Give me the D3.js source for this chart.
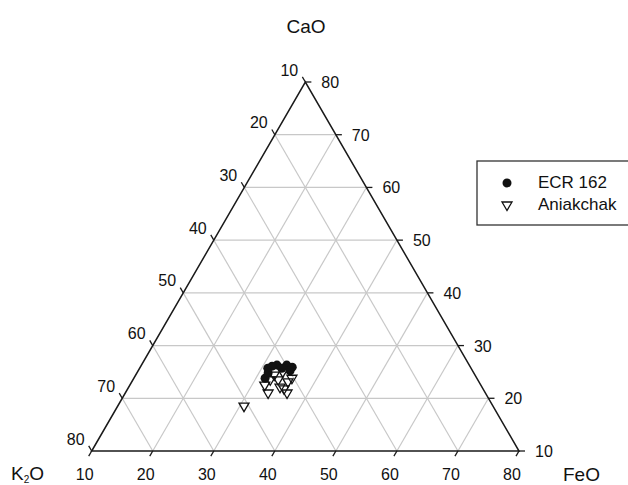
<!DOCTYPE html>
<html><head><meta charset="utf-8">
<script src="https://cdn.jsdelivr.net/npm/d3@7"></script>
<style>body{margin:0;background:#fff}</style>
</head><body><svg id="c" width="628" height="485"></svg>
<script>
const tickVals = [10,20,30,40,50,60,70,80];
const gridVals = [20,30,40,50,60,70];
const seriesNames = ["ECR 162","Aniakchak"];
// ECR 162 compositions
const ecrK2O = [43.3,41.5,39.9,39.2,44.7,42.4,41.0,43.7,39.9];
const ecrCaO = [25.7,26.3,26.3,25.9,23.8,26.1,25.7,24.8,25.2];
const ecrFeO = [31.0,32.2,33.8,34.9,31.5,31.5,33.3,31.5,34.9];
// Aniakchak compositions
const aniK2O = [44.0,42.7,41.3,45.6,42.5,43.1,50.8,41.2,42.9,40.3,45.4,42.6];
const aniCaO = [23.5,23.5,23.1,21.0,21.0,22.1,18.5,25.0,24.4,23.8,22.5,21.8];
const aniFeO = [32.5,33.8,35.6,33.4,36.5,34.8,30.7,33.8,32.7,35.9,32.1,35.6];

const svg = d3.select("#c");
const font = "'Liberation Sans', Arial, sans-serif";
const frac = d3.scaleLinear().domain([10,80]).range([0,1]);
const X = d3.scaleLinear().domain([0,1]).range([91.7,519]);
const Y = d3.scaleLinear().domain([0,1]).range([451,82]);
function proj(k,c,f){
  const s = (k+c+f)/100;
  const fc = frac(c/s), ff = frac(f/s);
  return [X(ff + fc/2), Y(fc)];
}
const line = d3.line();

// grid
const g = svg.append("g").attr("stroke","#c8c8c8").attr("stroke-width",1.2).attr("fill","none");
gridVals.forEach(v=>{
  g.append("path").attr("d", line([proj(90-v,v,10), proj(10,v,90-v)]));   // CaO const
  g.append("path").attr("d", line([proj(90-v,10,v), proj(10,90-v,v)]));   // FeO const
  g.append("path").attr("d", line([proj(v,10,90-v), proj(v,90-v,10)]));   // K2O const
});

// edges
svg.append("path").attr("d", line([proj(80,10,10),proj(10,80,10),proj(10,10,80)])+"Z")
  .attr("fill","none").attr("stroke","#1a1a1a").attr("stroke-width",1.5);

// ticks and labels
const tk = svg.append("g").attr("stroke","#1a1a1a").attr("stroke-width",1.3);
const tl = svg.append("g").attr("font-family",font).attr("font-size",16).attr("fill","#111");
const L = 6;
tickVals.forEach(v=>{
  let p = proj(90-v,10,v); // bottom FeO
  tk.append("line").attr("x1",p[0]).attr("y1",p[1]).attr("x2",p[0]-0.5*L).attr("y2",p[1]+0.866*L);
  tl.append("text").attr("x",p[0]-7).attr("y",p[1]+29).attr("text-anchor","middle").text(v);
  p = proj(v,90-v,10); // left K2O
  tk.append("line").attr("x1",p[0]).attr("y1",p[1]).attr("x2",p[0]-0.5*L).attr("y2",p[1]-0.866*L);
  tl.append("text").attr("x",p[0]-16).attr("y",p[1]-6.5).attr("text-anchor","middle").text(v);
  p = proj(10,v,90-v); // right CaO
  tk.append("line").attr("x1",p[0]).attr("y1",p[1]).attr("x2",p[0]+L).attr("y2",p[1]);
  tl.append("text").attr("x",p[0]+16).attr("y",p[1]+6).attr("text-anchor","start").text(v);
});

// axis titles
const tt = svg.append("g").attr("font-family",font).attr("font-size",19).attr("fill","#111");
tt.append("text").attr("x",306).attr("y",33).attr("text-anchor","middle").text("CaO");
const k = tt.append("text").attr("x",11).attr("y",480);
k.append("tspan").text("K");
k.append("tspan").attr("font-size",10).attr("dy",2.5).text("2");
k.append("tspan").attr("dy",-2.5).text("O");
tt.append("text").attr("x",563).attr("y",481).text("FeO");

// data
const triPath = "M-5,-3L5,-3L0,5.5Z";
const ecr = ecrK2O.map((d,i)=>proj(d,ecrCaO[i],ecrFeO[i]));
const ani = aniK2O.map((d,i)=>proj(d,aniCaO[i],aniFeO[i]));
svg.append("g").selectAll("circle").data(ecr).join("circle")
  .attr("cx",d=>d[0]).attr("cy",d=>d[1]).attr("r",4.5).attr("fill","#111");
svg.append("g").selectAll("path").data(ani).join("path")
  .attr("d",triPath).attr("transform",d=>`translate(${d[0]},${d[1]})`)
  .attr("fill","none").attr("stroke","#111").attr("stroke-width",1.3);

// legend
const lg = svg.append("g");
lg.append("rect").attr("x",477).attr("y",161).attr("width",170).attr("height",64)
  .attr("fill","#fff").attr("stroke","#333").attr("stroke-width",1.3);
lg.append("circle").attr("cx",507).attr("cy",183).attr("r",4.5).attr("fill","#111");
lg.append("path").attr("d",triPath).attr("transform","translate(507,205)")
  .attr("fill","none").attr("stroke","#111").attr("stroke-width",1.3);
lg.selectAll("text").data(seriesNames).join("text")
  .attr("x",538).attr("y",(d,i)=>188+i*22).attr("font-family",font).attr("font-size",17)
  .attr("fill","#111").text(d=>d);
</script></body></html>
